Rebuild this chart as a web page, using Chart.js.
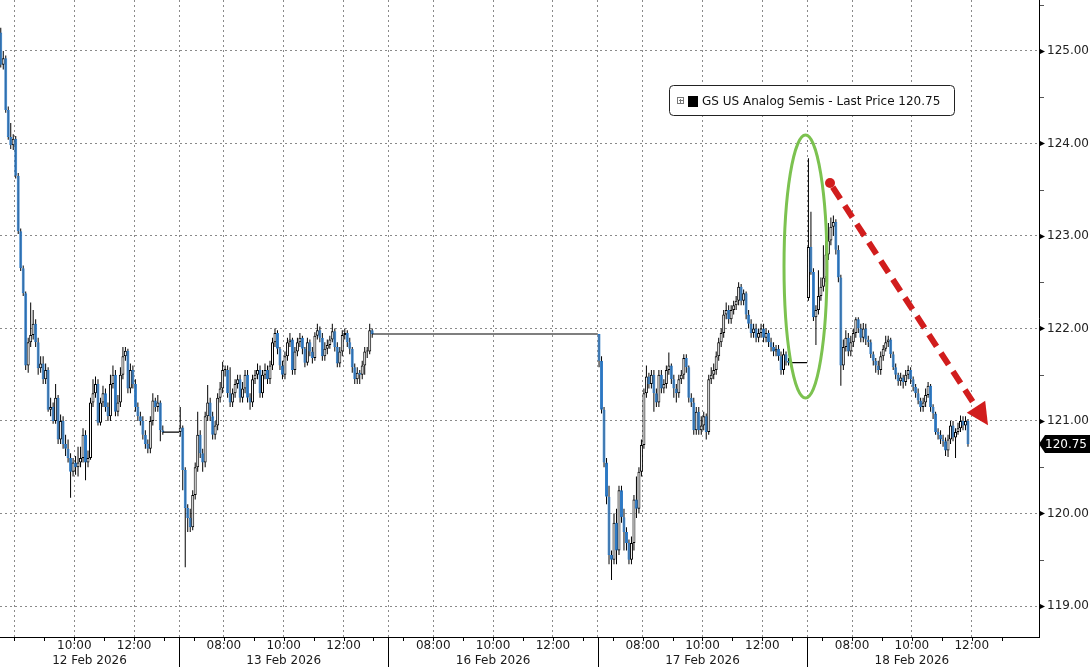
<!DOCTYPE html>
<html><head><meta charset="utf-8">
<script src="https://cdn.jsdelivr.net/npm/chart.js@4.4.1/dist/chart.umd.min.js"></script>
<style>html,body{margin:0;padding:0;background:#fff;}canvas{display:block;}</style>
</head><body>
<canvas id="c" width="1090" height="667"></canvas>
<script>
// ---------------- data ----------------
const dayLabels = ['12 Feb 2026', '13 Feb 2026', '16 Feb 2026', '17 Feb 2026', '18 Feb 2026'];
const hourTickLabels = ['08:00', '10:00', '12:00'];
const priceTicks = [119, 120, 121, 122, 123, 124, 125];
const seriesName = 'GS US Analog Semis - Last Price';
const lastPrice = 120.75;

// 5-minute bars. Each day's first bar index (bars counted from 06:30), day open, closes, highs, lows.
const feb12FirstBar = 12;
const feb12Open = 125.20;
const feb12Close = [124.85,124.92,124.36,124.07,123.98,124.05,123.65,123.05,122.65,122.38,
121.60,121.85,121.93,122.05,121.85,121.57,121.62,121.45,121.55,121.12,
121.15,121.00,121.25,120.80,121.00,120.75,120.70,120.60,120.45,120.55,
120.50,120.55,120.60,120.85,120.55,120.60,121.20,121.30,121.40,120.98,
121.20,121.30,121.15,121.05,121.40,121.50,121.10,121.20,121.50,121.70,
121.76,121.35,121.55,121.40,121.15,121.05,121.00,120.85,120.75,120.70,
121.00,121.22,121.15,121.20,120.90,120.88];
const feb12High = [125.25,125.00,124.95,124.40,124.22,124.10,124.08,123.68,123.08,122.68,
122.40,121.90,122.28,122.20,122.10,121.90,121.70,121.70,121.62,121.58,
121.25,121.20,121.40,121.28,121.07,121.05,120.85,120.80,120.65,120.60,
120.62,120.72,120.72,120.92,120.90,120.68,121.25,121.45,121.48,121.45,
121.25,121.38,121.35,121.20,121.50,121.60,121.55,121.28,121.58,121.80,
121.80,121.78,121.62,121.60,121.45,121.20,121.10,121.05,120.90,120.80,
121.05,121.30,121.25,121.28,121.22,120.95];
const feb12Low = [124.82,124.80,124.33,124.04,123.94,123.93,123.62,123.02,122.62,122.35,
121.55,121.52,121.80,121.88,121.80,121.50,121.52,121.40,121.40,121.10,
121.05,120.97,120.97,120.75,120.75,120.70,120.62,120.55,120.17,120.40,
120.42,120.40,120.50,120.55,120.36,120.50,120.58,121.15,121.25,120.95,
120.95,121.15,121.10,121.00,121.00,121.35,121.05,121.05,121.15,121.45,
121.65,121.30,121.30,121.35,121.10,121.00,120.95,120.80,120.70,120.65,
120.65,120.95,121.10,121.10,120.78,120.85];

const feb13FirstBar = 0;
const feb13Open = 120.88;
const feb13Close = [120.93,120.47,120.06,119.95,119.85,120.20,120.50,120.85,120.65,120.55,
121.05,121.20,121.05,120.85,120.95,121.25,121.35,121.55,121.55,121.30,
121.20,121.30,121.40,121.45,121.25,121.35,121.50,121.25,121.20,121.45,
121.50,121.55,121.30,121.50,121.55,121.45,121.60,121.85,121.95,121.78,
121.60,121.50,121.70,121.85,121.88,121.55,121.75,121.85,121.90,121.78,
121.63,121.85,121.75,121.68,121.92,121.98,121.90,121.70,121.78,121.82,
121.88,121.97,121.80,121.62,121.75,121.93,121.95,121.85,121.78,121.58,
121.45,121.52,121.50,121.60,121.75,121.75,121.98,121.94];
const feb13High = [121.15,120.95,120.50,120.10,120.05,120.25,120.55,121.10,120.90,120.70,
121.10,121.39,121.25,121.10,121.00,121.30,121.42,121.64,121.60,121.60,
121.58,121.35,121.45,121.50,121.50,121.42,121.55,121.55,121.30,121.50,
121.55,121.62,121.60,121.55,121.62,121.60,121.65,121.90,122.00,121.98,
121.80,121.65,121.75,121.90,121.95,121.90,121.80,121.90,121.95,121.92,
121.80,121.90,121.88,121.80,121.96,122.05,122.02,121.95,121.85,121.88,
121.92,122.05,122.00,121.85,121.80,121.98,122.00,121.98,121.90,121.80,
121.62,121.58,121.55,121.65,121.80,121.80,122.05,122.00];
const feb13Low = [120.83,120.25,119.42,119.80,119.80,119.82,120.15,120.45,120.60,120.45,
120.50,121.00,121.00,120.80,120.80,120.90,121.20,121.30,121.48,121.25,
121.15,121.15,121.25,121.35,121.20,121.20,121.30,121.20,121.12,121.15,
121.40,121.45,121.25,121.25,121.45,121.40,121.40,121.55,121.80,121.72,
121.55,121.45,121.45,121.65,121.80,121.50,121.50,121.70,121.80,121.72,
121.58,121.60,121.70,121.62,121.65,121.88,121.85,121.65,121.65,121.72,
121.78,121.85,121.75,121.58,121.58,121.70,121.88,121.80,121.72,121.52,
121.40,121.40,121.40,121.45,121.50,121.68,121.72,121.90];

const feb17FirstBar = 0;
const feb17Open = 121.94;
const feb17Close = [121.65,121.12,120.55,120.18,119.55,119.50,119.90,119.60,120.25,119.96,
119.80,119.68,119.50,119.68,120.15,120.05,120.45,120.74,121.30,121.48,
121.40,121.50,121.30,121.20,121.50,121.35,121.40,121.55,121.60,121.45,
121.35,121.30,121.45,121.50,121.68,121.58,121.25,121.20,120.90,121.10,
120.90,120.95,121.05,120.88,121.45,121.50,121.55,121.70,121.85,121.95,
122.15,122.20,122.10,122.20,122.25,122.30,122.45,122.30,122.38,122.15,
122.05,121.95,122.00,121.90,121.95,122.00,121.90,121.95,121.85,121.80,
121.75,121.78,121.70,121.55,121.72,121.65,121.63,121.63];
const feb17High = [121.94,121.70,121.15,120.60,120.30,119.60,120.00,120.05,120.30,120.30,
120.05,119.85,119.72,119.75,120.20,120.40,120.50,120.80,121.35,121.60,
121.52,121.55,121.55,121.35,121.55,121.55,121.45,121.60,121.74,121.62,
121.50,121.40,121.50,121.55,121.72,121.72,121.60,121.30,121.25,121.15,
121.15,121.05,121.10,121.08,121.50,121.58,121.62,121.75,121.90,122.00,
122.20,122.28,122.25,122.25,122.30,122.35,122.50,122.48,122.42,122.40,
122.20,122.10,122.05,122.05,122.00,122.05,122.05,122.00,121.98,121.90,
121.85,121.82,121.82,121.75,121.78,121.75,121.68,121.65];
const feb17Low = [121.58,121.08,120.50,120.10,119.45,119.28,119.45,119.45,119.55,119.90,
119.60,119.60,119.45,119.45,119.60,119.95,120.00,120.40,120.70,121.25,
121.35,121.35,121.10,121.15,121.15,121.30,121.30,121.35,121.50,121.40,
121.25,121.20,121.25,121.40,121.45,121.52,121.20,121.15,120.85,120.85,
120.85,120.85,120.90,120.80,120.85,121.40,121.45,121.50,121.65,121.80,
121.90,122.10,122.05,122.05,122.15,122.20,122.25,122.25,122.25,122.10,
122.00,121.90,121.90,121.85,121.85,121.90,121.85,121.85,121.80,121.75,
121.70,121.70,121.65,121.50,121.50,121.60,121.60,121.60];

const feb18FirstBar = 0;
const feb18Open = 122.33;
const feb18Close = [122.88,122.61,122.12,122.20,122.35,122.45,122.55,122.80,122.95,123.10,
123.15,122.85,122.55,121.60,121.80,121.90,121.75,121.85,121.95,122.10,
122.00,121.90,122.00,121.88,121.85,121.72,121.65,121.60,121.55,121.70,
121.78,121.85,121.88,121.72,121.58,121.50,121.43,121.47,121.42,121.50,
121.55,121.45,121.37,121.30,121.22,121.15,121.20,121.28,121.38,121.15,
121.08,120.88,120.85,120.80,120.78,120.68,120.80,120.95,120.82,120.88,
120.92,121.00,120.95,121.00,120.75];
const feb18High = [123.84,123.26,122.65,122.25,122.63,122.55,122.90,122.95,123.14,123.20,
123.22,123.18,122.90,122.58,121.88,121.98,121.95,121.92,122.00,122.12,
122.12,122.05,122.06,122.05,121.92,121.88,121.75,121.68,121.65,121.75,
121.82,121.92,121.92,121.90,121.75,121.62,121.52,121.52,121.50,121.55,
121.60,121.58,121.48,121.40,121.35,121.25,121.25,121.35,121.42,121.40,
121.18,121.10,120.92,120.90,120.85,120.82,120.85,121.00,121.00,120.92,
120.98,121.06,121.05,121.05,121.02];
const feb18Low = [122.30,122.58,122.08,121.82,122.15,122.30,122.40,122.50,122.74,122.90,
123.00,122.80,122.50,121.38,121.55,121.75,121.70,121.70,121.80,121.90,
121.95,121.85,121.85,121.82,121.80,121.68,121.60,121.52,121.50,121.50,
121.65,121.75,121.80,121.68,121.55,121.45,121.38,121.38,121.35,121.38,
121.45,121.40,121.32,121.25,121.18,121.10,121.10,121.15,121.25,121.10,
121.02,120.85,120.80,120.75,120.72,120.62,120.61,120.75,120.78,120.60,
120.85,120.88,120.90,120.90,120.72];

// ---------------- build ----------------
const SLOT = 7;            // each day occupies 06:30–13:30 on the time axis (hours)
const X_MIN = 1.016, X_MAX = 35.749;
const BLUE = '#2f7bc6';
const FONT = '"DejaVu Sans", Verdana, sans-serif';

const sessions = [
  {day: 0, first: feb12FirstBar, open: feb12Open, close: feb12Close, high: feb12High, low: feb12Low},
  {day: 1, first: feb13FirstBar, open: feb13Open, close: feb13Close, high: feb13High, low: feb13Low},
  {day: 3, first: feb17FirstBar, open: feb17Open, close: feb17Close, high: feb17High, low: feb17Low},
  {day: 4, first: feb18FirstBar, open: feb18Open, close: feb18Close, high: feb18High, low: feb18Low}
];
const bars = [];
sessions.forEach(s => {
  s.close.forEach((c, i) => {
    const o = i === 0 ? s.open : s.close[i - 1];
    const t = s.day * SLOT + (s.first + i) / 12 + 1 / 24;
    bars.push({t, o, c, h: Math.max(s.high[i], o, c), l: Math.min(s.low[i], o, c)});
  });
});
// flat no-trade stretches (after close, holiday) carry the last close
const flatPts = [];
for (let i = 0; i < sessions.length - 1; i++) {
  const s = sessions[i];
  const last = s.close[s.close.length - 1];
  const tLast = s.day * SLOT + (s.first + s.close.length - 1) / 12 + 1 / 24;
  const tNext = sessions[i + 1].day * SLOT;
  flatPts.push({x: tLast, y: last}, {x: tNext, y: last}, {x: tNext + 0.01, y: null});
}

const gridTicks = [];
for (let d = 0; d < dayLabels.length; d++) {
  [0, 1.5, 3.5, 5.5].forEach(h => {
    const t = d * SLOT + h;
    if (t > X_MIN && t < X_MAX) gridTicks.push(t);
  });
}

const spikeOval = {tMin: 27.225, tMax: 28.662, pMin: 121.247, pMax: 124.09};
const trendArrow = {t0: 28.762, p0: 123.572, t1: 34.044, p1: 120.955};

const overlay = {
  id: 'overlay',
  afterDraw(chart) {
    const {ctx, chartArea: a, scales: {x, y}} = chart;
    ctx.save();
    // green oval
    const ox0 = x.getPixelForValue(spikeOval.tMin), ox1 = x.getPixelForValue(spikeOval.tMax);
    const oy0 = y.getPixelForValue(spikeOval.pMax), oy1 = y.getPixelForValue(spikeOval.pMin);
    ctx.strokeStyle = '#7cc250'; ctx.lineWidth = 3;
    ctx.beginPath();
    ctx.ellipse((ox0 + ox1) / 2, (oy0 + oy1) / 2, (ox1 - ox0) / 2, (oy1 - oy0) / 2, 0, 0, Math.PI * 2);
    ctx.stroke();
    // red dashed arrow
    const sx = x.getPixelForValue(trendArrow.t0), sy = y.getPixelForValue(trendArrow.p0);
    const ex = x.getPixelForValue(trendArrow.t1), ey = y.getPixelForValue(trendArrow.p1);
    const len = Math.hypot(ex - sx, ey - sy), ux = (ex - sx) / len, uy = (ey - sy) / len;
    const head = 22, half = 11;
    const bx = ex - ux * head, by = ey - uy * head;
    ctx.strokeStyle = '#d11d1d'; ctx.fillStyle = '#d11d1d';
    ctx.lineWidth = 6; ctx.setLineDash([14, 8]);
    ctx.beginPath(); ctx.moveTo(sx + ux * 5, sy + uy * 5); ctx.lineTo(bx, by); ctx.stroke();
    ctx.setLineDash([]);
    ctx.beginPath(); ctx.arc(sx, sy, 5, 0, Math.PI * 2); ctx.fill();
    ctx.beginPath();
    ctx.moveTo(ex, ey);
    ctx.lineTo(bx - uy * half, by + ux * half);
    ctx.lineTo(bx + uy * half, by - ux * half);
    ctx.closePath(); ctx.fill();

    // legend box
    const lx = 669.5, ly = 85.5, lw = 285, lh = 30, r = 4;
    ctx.fillStyle = '#fff'; ctx.strokeStyle = '#222'; ctx.lineWidth = 1;
    ctx.beginPath();
    ctx.moveTo(lx + r, ly); ctx.lineTo(lx + lw - r, ly); ctx.arcTo(lx + lw, ly, lx + lw, ly + r, r);
    ctx.lineTo(lx + lw, ly + lh - r); ctx.arcTo(lx + lw, ly + lh, lx + lw - r, ly + lh, r);
    ctx.lineTo(lx + r, ly + lh); ctx.arcTo(lx, ly + lh, lx, ly + lh - r, r);
    ctx.lineTo(lx, ly + r); ctx.arcTo(lx, ly, lx + r, ly, r);
    ctx.closePath(); ctx.fill(); ctx.stroke();
    ctx.strokeStyle = '#777';
    ctx.strokeRect(677.5, 97.5, 6, 6);
    ctx.beginPath(); ctx.moveTo(679, 100.5); ctx.lineTo(683, 100.5); ctx.moveTo(680.5, 99); ctx.lineTo(680.5, 103); ctx.stroke();
    ctx.fillStyle = '#000'; ctx.fillRect(688, 96, 10, 11);
    ctx.fillStyle = '#111'; ctx.font = '12px ' + FONT; ctx.textBaseline = 'middle'; ctx.textAlign = 'left';
    ctx.fillText(seriesName + ' ' + lastPrice.toFixed(2), 702, 101.5);

    // axis lines
    ctx.strokeStyle = '#000'; ctx.lineWidth = 1;
    ctx.beginPath();
    ctx.moveTo(a.left, a.bottom + 0.5); ctx.lineTo(a.right + 1, a.bottom + 0.5);
    ctx.moveTo(a.right + 0.5, a.top); ctx.lineTo(a.right + 0.5, a.bottom + 0.5);
    ctx.stroke();
    // y-axis marks
    ctx.fillStyle = '#000';
    priceTicks.forEach(v => {
      const py = Math.round(y.getPixelForValue(v)) + 0.5;
      ctx.beginPath(); ctx.moveTo(a.right, py - 3); ctx.lineTo(a.right + 6, py); ctx.lineTo(a.right, py + 3); ctx.closePath(); ctx.fill();
    });
    ctx.strokeStyle = '#555';
    priceTicks.forEach(v => {
      const py = Math.round(y.getPixelForValue(v + 0.5)) + 0.5;
      if (py > a.top && py < a.bottom) { ctx.beginPath(); ctx.moveTo(a.right + 1, py); ctx.lineTo(a.right + 5, py); ctx.stroke(); }
    });
    // last price tag
    const ty = y.getPixelForValue(lastPrice);
    ctx.fillStyle = '#000';
    ctx.beginPath();
    ctx.moveTo(a.right, ty); ctx.lineTo(a.right + 6, ty - 9); ctx.lineTo(1090, ty - 9);
    ctx.lineTo(1090, ty + 9); ctx.lineTo(a.right + 6, ty + 9); ctx.closePath(); ctx.fill();
    ctx.fillStyle = '#fff'; ctx.font = '12px ' + FONT; ctx.textBaseline = 'middle'; ctx.textAlign = 'left';
    ctx.fillText(lastPrice.toFixed(2), 1045, ty + 0.5, 43);

    // x-axis ticks, separators, labels
    ctx.strokeStyle = '#000';
    ctx.beginPath();
    for (let d = 0; d < dayLabels.length; d++) {
      for (let hr = 7; hr <= 13; hr++) {
        const t = d * SLOT + (hr - 6.5);
        if (t <= X_MIN || t >= X_MAX) continue;
        const px = Math.round(x.getPixelForValue(t)) + 0.5;
        ctx.moveTo(px, a.bottom); ctx.lineTo(px, a.bottom + 4);
      }
      if (d > 0) {
        const px = Math.round(x.getPixelForValue(d * SLOT)) + 0.5;
        ctx.moveTo(px, a.bottom); ctx.lineTo(px, 667);
      }
    }
    ctx.stroke();
    ctx.fillStyle = '#1a1a1a'; ctx.font = '12px ' + FONT; ctx.textAlign = 'center'; ctx.textBaseline = 'middle';
    for (let d = 0; d < dayLabels.length; d++) {
      [8, 10, 12].forEach((hr, j) => {
        const t = d * SLOT + (hr - 6.5);
        const px = x.getPixelForValue(t);
        if (px < a.left + 22 || px > a.right - 22) return;
        ctx.fillText(hourTickLabels[j], px, 646);
      });
      const t0 = Math.max(d * SLOT, X_MIN), t1 = Math.min(d * SLOT + SLOT, X_MAX);
      ctx.fillText(dayLabels[d], (x.getPixelForValue(t0) + x.getPixelForValue(t1)) / 2, 661);
    }
    ctx.restore();
  }
};

new Chart(document.getElementById('c'), {
  type: 'bar',
  data: {
    datasets: [
      {
        type: 'line', data: flatPts, borderColor: '#000', borderWidth: 1.2,
        pointRadius: 0, spanGaps: false, order: 0
      },
      {
        data: bars.map(b => ({x: b.t, y: [b.o, b.c]})),
        backgroundColor: c => { const b = bars[c.dataIndex]; return b && b.c >= b.o ? '#ffffff' : BLUE; },
        borderColor: c => { const b = bars[c.dataIndex]; return b && b.c >= b.o ? '#000000' : BLUE; },
        borderWidth: 1, borderSkipped: false, barThickness: 3, minBarLength: 1,
        grouped: false, inflateAmount: 0, order: 1
      },
      {
        data: bars.map(b => ({x: b.t, y: [b.l, b.h]})),
        backgroundColor: '#000', borderWidth: 0, barThickness: 1,
        grouped: false, inflateAmount: 0, order: 2
      }
    ]
  },
  options: {
    responsive: false, animation: false, devicePixelRatio: 1,
    layout: {padding: 0},
    plugins: {legend: {display: false}, tooltip: {enabled: false}},
    scales: {
      x: {
        type: 'linear', min: X_MIN, max: X_MAX, offset: false,
        afterBuildTicks: s => { s.ticks = gridTicks.map(v => ({value: v})); },
        afterFit: s => { s.height = 30; s.paddingLeft = 0; s.paddingRight = 0; },
        ticks: {display: false},
        grid: {offset: false, color: '#8a8a8a', lineWidth: 1, drawTicks: false},
        border: {display: false, dash: [2, 3]}
      },
      y: {
        position: 'right', min: 118.665, max: 125.55,
        afterBuildTicks: s => { s.ticks = priceTicks.map(v => ({value: v})); },
        afterFit: s => { s.width = 51; s.paddingTop = 0; s.paddingBottom = 0; },
        ticks: {
          autoSkip: false, padding: 8, color: '#222',
          font: {family: FONT, size: 12},
          callback: v => Number(v).toFixed(2)
        },
        grid: {color: '#8a8a8a', lineWidth: 1, drawTicks: false},
        border: {display: false, dash: [2, 3]}
      }
    }
  },
  plugins: [overlay]
});
</script>
</body></html>
